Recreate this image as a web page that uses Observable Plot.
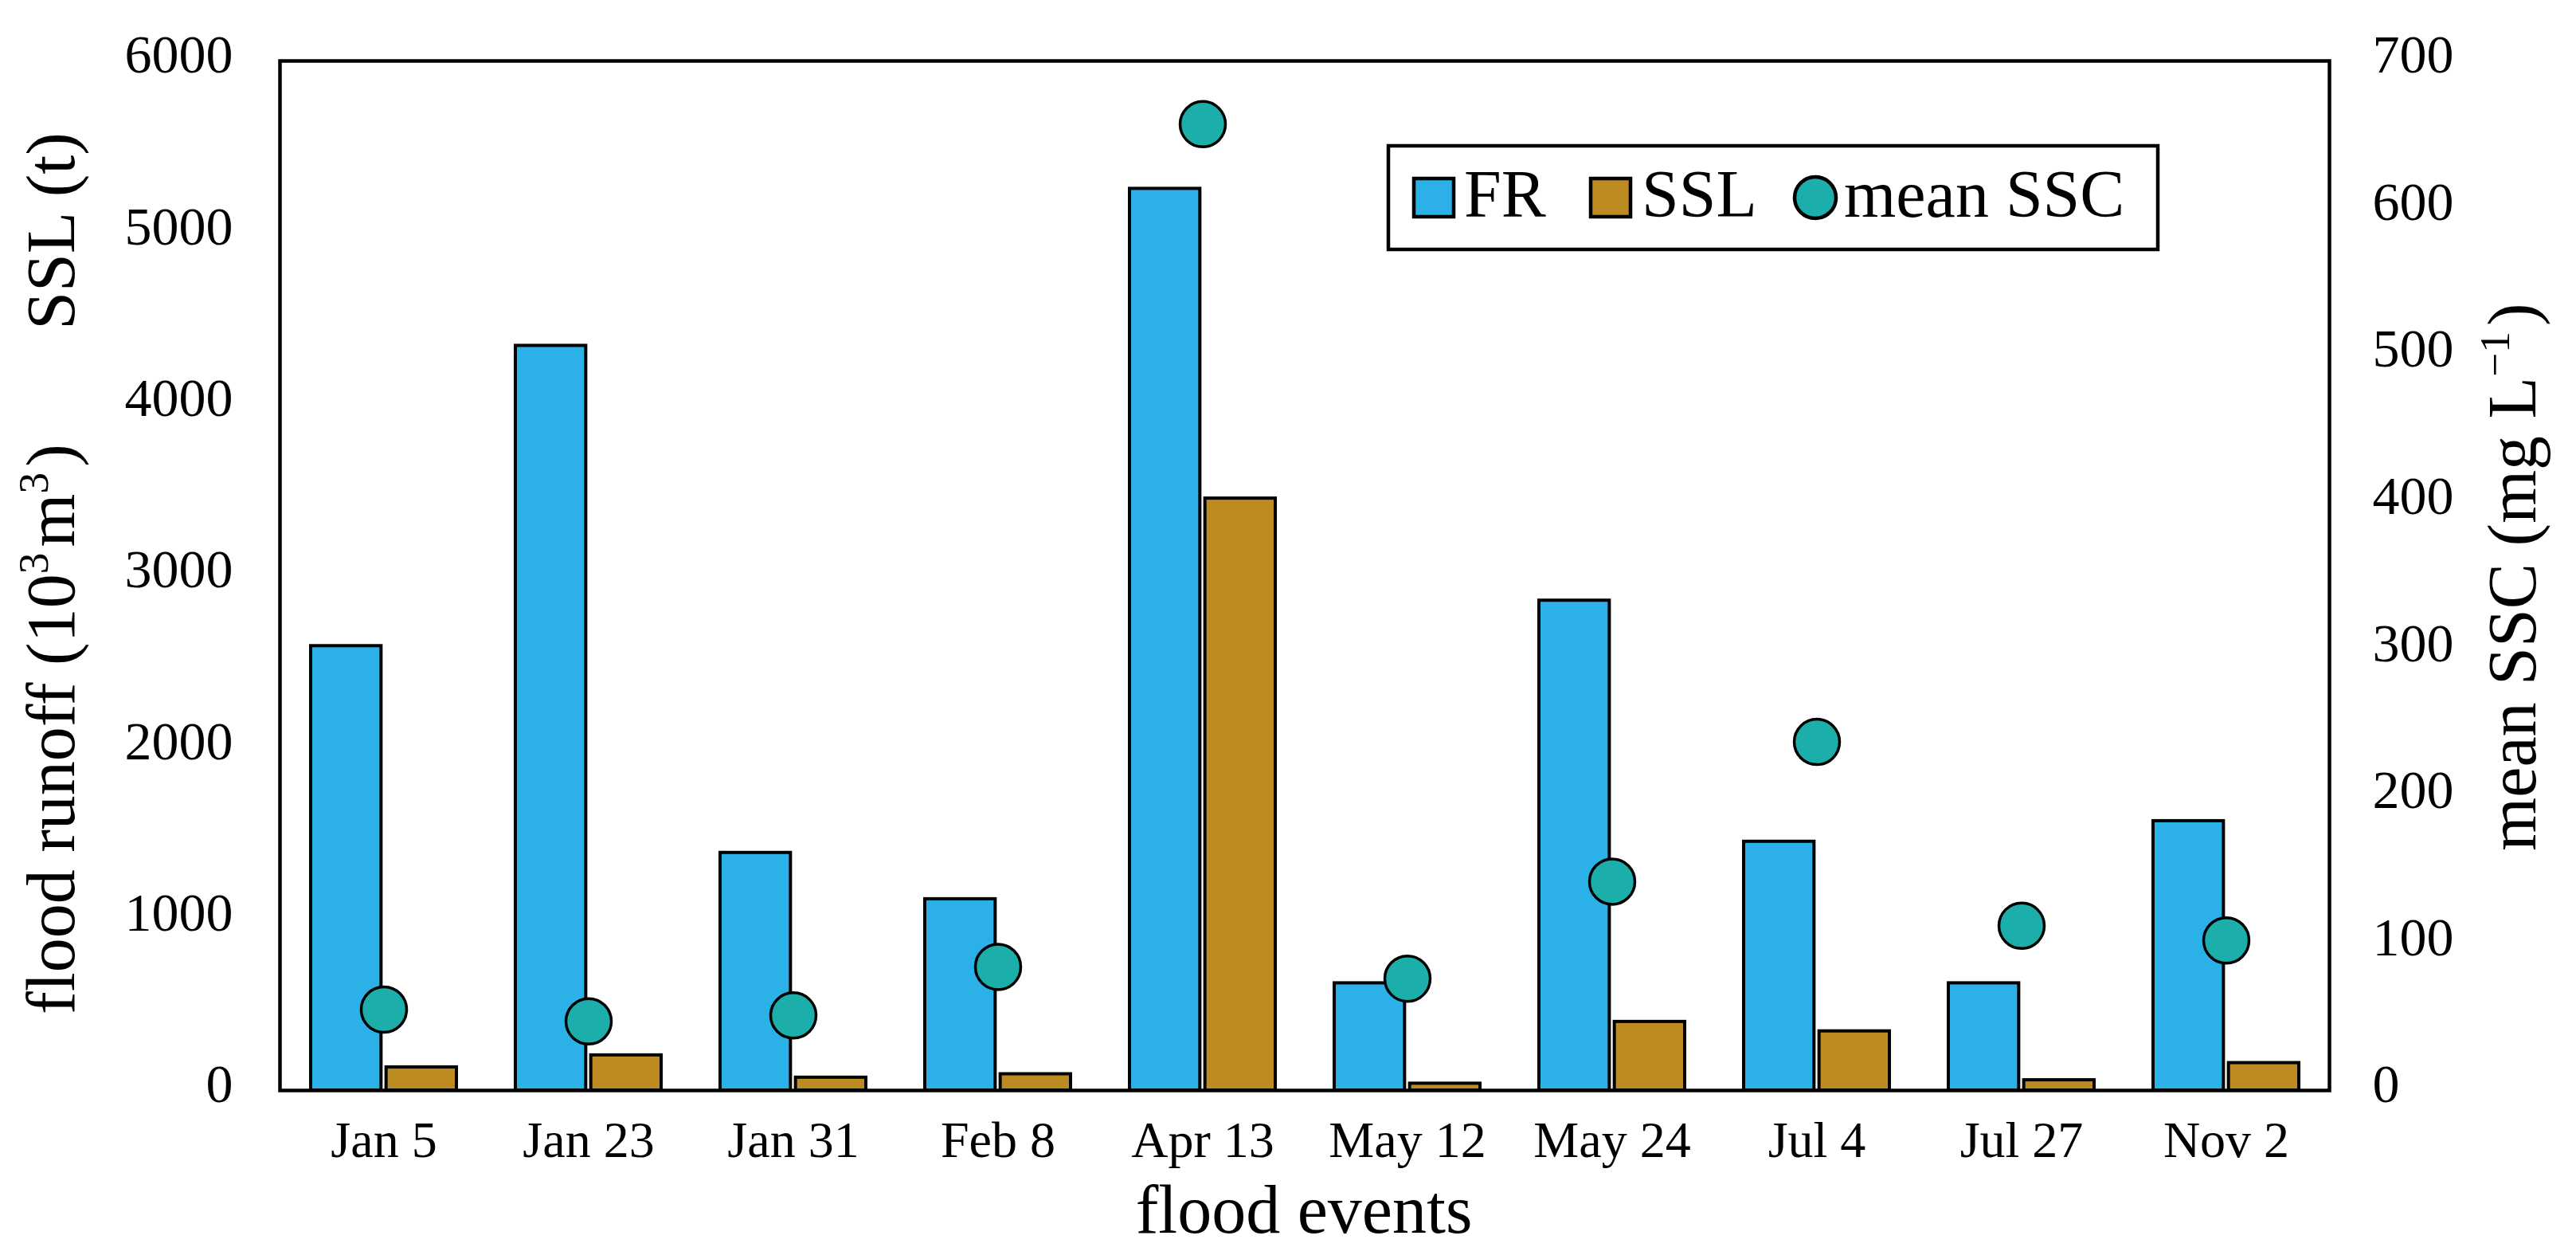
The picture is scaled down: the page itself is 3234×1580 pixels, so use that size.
<!DOCTYPE html>
<html>
<head>
<meta charset="utf-8">
<script src="https://cdn.jsdelivr.net/npm/d3@7"></script>
<script src="https://cdn.jsdelivr.net/npm/@observablehq/plot@0.6"></script>
<style>
  html, body { margin: 0; padding: 0; background: #ffffff; }
  #chart svg { display: block; }
</style>
</head>
<body>
<div id="chart"></div>
<script>
// ---- data ----
const events = ["Jan 5", "Jan 23", "Jan 31", "Feb 8", "Apr 13", "May 12", "May 24", "Jul 4", "Jul 27", "Nov 2"];
const floodRunoff = [2590, 4340, 1385, 1115, 5255, 625, 2855, 1450, 625, 1570]; // 10^3 m^3
const ssl = [135, 205, 75, 95, 3450, 40, 400, 345, 60, 160];                   // t
const meanSSC = [55, 47, 51, 84, 657, 76, 142, 237, 112, 102];                 // mg/L
const leftTicks = [0, 1000, 2000, 3000, 4000, 5000, 6000];
const rightTicks = [0, 100, 200, 300, 400, 500, 600, 700];

// ---- styles ----
const COLORS = { FR: "#2BB0E8", SSL: "#BC8B22", SSC: "#1BAEAA" };
const FONT = "Liberation Serif, Times New Roman, serif";
const W = 3234, H = 1580;
const k = 6000 / 700; // right axis (0..700) mapped onto left axis (0..6000)

const table = events.map((e, i) => ({ event: e, fr: floodRunoff[i], ssl: ssl[i], ssc: meanSSC[i] }));

const plot = Plot.plot({
  width: W,
  height: H,
  marginTop: 76,
  marginBottom: 212,
  marginLeft: 351,
  marginRight: 310,
  style: { fontFamily: FONT, background: "white", color: "black" },
  x: { domain: events, padding: 0 },
  y: { domain: [0, 6000] },
  marks: [
    Plot.barY(table, { x: "event", y: "fr", fill: COLORS.FR, stroke: "black", strokeWidth: 4, insetLeft: 37, insetRight: 131.65 }),
    Plot.barY(table, { x: "event", y: "ssl", fill: COLORS.SSL, stroke: "black", strokeWidth: 4, insetLeft: 131.65, insetRight: 37 }),
    Plot.dot(table, { x: "event", y: d => d.ssc * k, r: 28.5, fill: COLORS.SSC, stroke: "black", strokeWidth: 3.5 }),
    Plot.frame({ stroke: "black", strokeWidth: 4.5 }),
    Plot.axisX({ tickSize: 0, tickPadding: 38, fontSize: 64, label: null }),
    Plot.axisY(leftTicks, { anchor: "left", tickSize: 0, tickPadding: 59, fontSize: 68, dy: -7, label: null, tickFormat: d => String(d) }),
    Plot.axisY(rightTicks.map(v => v * k), { anchor: "right", tickSize: 0, tickPadding: 54, fontSize: 68, dy: -7, label: null, tickFormat: d => String(Math.round(d / k)) })
  ]
});

document.getElementById("chart").appendChild(plot);

// ---- titles & legend ----
const svg = d3.select(plot);
const g = svg.append("g").attr("font-family", FONT).attr("fill", "black");

function addText(parent, parts, size) {
  const t = parent.append("text").attr("font-size", size);
  parts.forEach(p => {
    if (typeof p === "string") {
      t.append("tspan").text(p);
    } else {
      t.append("tspan").attr("font-size", size * 0.62).attr("dy", -size * 0.38).text(p.sup);
      t.append("tspan").attr("dy", size * 0.38).text("\u200A");
    }
  });
  return t;
}

// x title
addText(g, ["flood events"], 86).attr("x", 1637).attr("y", 1547).attr("text-anchor", "middle");

// left titles
addText(g, ["SSL (t)"], 86).attr("text-anchor", "middle").attr("transform", "translate(93,290) rotate(-90)");
addText(g, ["flood runoff (10", { sup: "3" }, "m", { sup: "3" }, ")"], 86)
  .attr("text-anchor", "middle").attr("transform", "translate(93,915) rotate(-90)");

// right title
addText(g, ["mean SSC (mg L", { sup: "\u22121" }, ")"], 86)
  .attr("text-anchor", "middle").attr("transform", "translate(3183,724) rotate(-90)");

// legend
const lg = svg.append("g").attr("font-family", FONT).attr("text-anchor", "start").attr("fill", "black");
lg.append("rect").attr("x", 1743).attr("y", 183).attr("width", 966).attr("height", 130)
  .attr("fill", "white").attr("stroke", "black").attr("stroke-width", 4.5);
lg.append("rect").attr("x", 1775).attr("y", 224).attr("width", 50).attr("height", 48)
  .attr("fill", COLORS.FR).attr("stroke", "black").attr("stroke-width", 4.5);
lg.append("text").attr("x", 1838).attr("y", 272).attr("font-size", 84).attr("text-anchor", "start").text("FR");
lg.append("rect").attr("x", 1997).attr("y", 224).attr("width", 50).attr("height", 48)
  .attr("fill", COLORS.SSL).attr("stroke", "black").attr("stroke-width", 4.5);
lg.append("text").attr("x", 2061).attr("y", 272).attr("font-size", 84).attr("text-anchor", "start").text("SSL");
lg.append("circle").attr("cx", 2279).attr("cy", 248).attr("r", 26)
  .attr("fill", COLORS.SSC).attr("stroke", "black").attr("stroke-width", 4.5);
lg.append("text").attr("x", 2315).attr("y", 272).attr("font-size", 84).attr("text-anchor", "start").text("mean SSC");
</script>
</body>
</html>
